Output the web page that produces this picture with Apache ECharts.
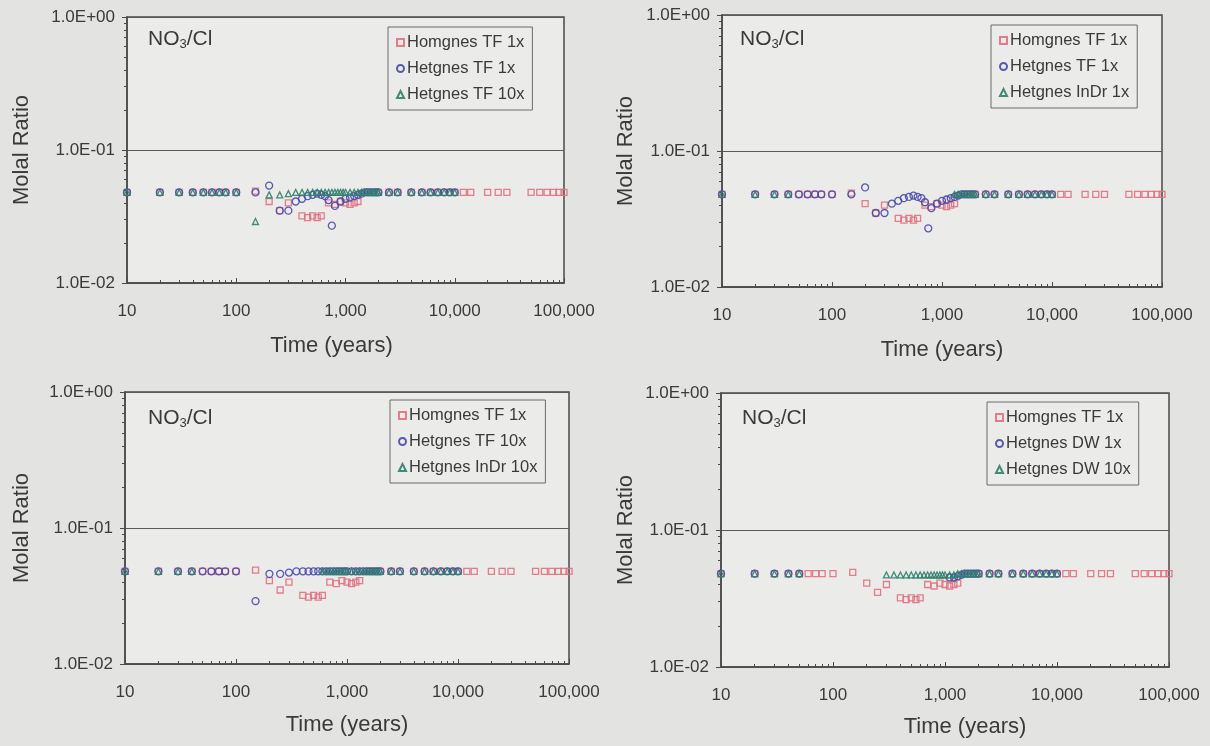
<!DOCTYPE html>
<html><head><meta charset="utf-8">
<script src="https://cdn.jsdelivr.net/npm/echarts@6/dist/echarts.min.js"></script>
<style>html,body{margin:0;padding:0;background:#e3e3e1}#c{width:1210px;height:746px}</style>
</head><body><div id="c"></div>
<script>
// ---- tick labels / texts ----
const xTickLabels = ['10', '100', '1,000', '10,000', '100,000'];
const yTickLabels = ['1.0E-02', '1.0E-01', '1.0E+00'];
const xName = 'Time (years)';
const yName = 'Molal Ratio';

// ---- Homgnes TF 1x ----
const homT = [10,20,30,40,50,60,70,80,100,150,200,250,300,400,450,500,550,600,700,800,900,1000,1100,1200,1300,1600,2000,2500,3000,4000,5000,6000,7000,8000,9000,10000,12000,14000,20000,25000,30000,50000,60000,70000,80000,90000,100000];
const homV = [0.048,0.048,0.048,0.048,0.048,0.048,0.048,0.048,0.048,0.049,0.041,0.035,0.040,0.032,0.031,0.032,0.031,0.032,0.040,0.039,0.041,0.040,0.039,0.040,0.041,0.048,0.048,0.048,0.048,0.048,0.048,0.048,0.048,0.048,0.048,0.048,0.048,0.048,0.048,0.048,0.048,0.048,0.048,0.048,0.048,0.048,0.048];

// ---- Hetgnes TF 1x ----
const tf1T = [10,20,30,40,50,60,70,80,100,150,200,250,300,350,400,450,500,550,600,650,700,750,800,900,1000,1100,1200,1300,1400,1500,1600,1700,1800,1900,2000,2500,3000,4000,5000,6000,7000,8000,9000,10000];
const tf1V = [0.048,0.048,0.048,0.048,0.048,0.048,0.048,0.048,0.048,0.048,0.054,0.035,0.035,0.041,0.043,0.045,0.046,0.047,0.046,0.045,0.042,0.027,0.038,0.041,0.043,0.044,0.045,0.046,0.047,0.048,0.048,0.048,0.048,0.048,0.048,0.048,0.048,0.048,0.048,0.048,0.048,0.048,0.048,0.048];

// ---- Hetgnes TF 10x ----
const tf10T = [10,20,30,40,50,60,70,80,100,150,200,250,300,350,400,450,500,550,600,650,700,750,800,850,900,950,1000,1100,1200,1300,1400,1500,1600,1700,1800,1900,2000,2500,3000,4000,5000,6000,7000,8000,9000,10000];
const tf10V = [0.048,0.048,0.048,0.048,0.048,0.048,0.048,0.048,0.048,0.029,0.046,0.046,0.047,0.048,0.048,0.048,0.048,0.048,0.048,0.048,0.048,0.048,0.048,0.048,0.048,0.048,0.048,0.048,0.048,0.048,0.048,0.048,0.048,0.048,0.048,0.048,0.048,0.048,0.048,0.048,0.048,0.048,0.048,0.048,0.048,0.048];

// ---- Hetgnes InDr 1x ----
const indr1T = [10,20,30,40,1300,1400,1500,1600,1700,1800,1900,2000,2500,3000,4000,5000,6000,7000,8000,9000,10000];
const indr1V = [0.048,0.048,0.048,0.048,0.048,0.048,0.048,0.048,0.048,0.048,0.048,0.048,0.048,0.048,0.048,0.048,0.048,0.048,0.048,0.048,0.048];

// ---- Hetgnes InDr 10x ----
const indr10T = [10,20,30,40,600,650,700,750,800,850,900,950,1000,1100,1200,1300,1400,1500,1600,1700,1800,1900,2000,2500,3000,4000,5000,6000,7000,8000,9000,10000];
const indr10V = [0.048,0.048,0.048,0.048,0.048,0.048,0.048,0.048,0.048,0.048,0.048,0.048,0.048,0.048,0.048,0.048,0.048,0.048,0.048,0.048,0.048,0.048,0.048,0.048,0.048,0.048,0.048,0.048,0.048,0.048,0.048,0.048];

// ---- Hetgnes DW 1x ----
const dw1T = [10,20,30,40,50,1100,1200,1300,1400,1500,1600,1700,1800,1900,2000,2500,3000,4000,5000,6000,7000,8000,9000,10000];
const dw1V = [0.048,0.048,0.048,0.048,0.048,0.045,0.045,0.046,0.047,0.048,0.048,0.048,0.048,0.048,0.048,0.048,0.048,0.048,0.048,0.048,0.048,0.048,0.048,0.048];

// ---- Hetgnes DW 10x ----
const dw10T = [10,20,30,40,50,300,350,400,450,500,550,600,650,700,750,800,850,900,950,1000,1100,1200,1300,1400,1500,1600,1700,1800,1900,2000,2500,3000,4000,5000,6000,7000,8000,9000,10000];
const dw10V = [0.048,0.048,0.048,0.048,0.048,0.047,0.047,0.047,0.047,0.047,0.047,0.047,0.047,0.047,0.047,0.047,0.047,0.047,0.047,0.047,0.047,0.047,0.048,0.048,0.048,0.048,0.048,0.048,0.048,0.048,0.048,0.048,0.048,0.048,0.048,0.048,0.048,0.048,0.048];

// ---- panels: legend names & data ----
const panelNames = [
  ['Homgnes TF 1x', 'Hetgnes TF 1x', 'Hetgnes TF 10x'],
  ['Homgnes TF 1x', 'Hetgnes TF 1x', 'Hetgnes InDr 1x'],
  ['Homgnes TF 1x', 'Hetgnes TF 10x', 'Hetgnes InDr 10x'],
  ['Homgnes TF 1x', 'Hetgnes DW 1x', 'Hetgnes DW 10x']
];
const panelData = [
  [[homT, homV], [tf1T, tf1V], [tf10T, tf10V]],
  [[homT, homV], [tf1T, tf1V], [indr1T, indr1V]],
  [[homT, homV], [tf10T, tf10V], [indr10T, indr10V]],
  [[homT, homV], [dw1T, dw1V], [dw10T, dw10V]]
];

// ---- layout / style (not data) ----
const FONT = 'Liberation Sans, Arial, sans-serif';
const TXT = '#3a3a3a';
const grids = [
  {left: 127, top: 17, width: 437, height: 266},
  {left: 722, top: 15, width: 440, height: 272},
  {left: 125, top: 392, width: 444, height: 272},
  {left: 721, top: 393, width: 448, height: 274}
];
const legendPos = [[388, 27], [991, 25], [390, 400], [987, 402]];
const titlePos = [[148, 29], [740, 29], [148, 408], [742, 408]];
const xNameGap = [52, 52, 50, 49];
const xNamePad = [[0, 28, 0, 0], [0, 0, 0, 0], [0, 0, 0, 0], [0, 0, 0, 40]];
const yNameGap = [94, 85, 92, 84];
const slotStyle = [
  {symbol: 'rect', color: '#e0707f', size: 6},
  {symbol: 'circle', color: '#4848a8', size: 7},
  {symbol: 'triangle', color: '#2f7f6c', size: 6}
];

const zip = (t, v) => t.map((x, i) => [x, v[i]]);

const option = {
  backgroundColor: '#e3e3e1',
  animation: false,
  grid: grids.map(g => Object.assign({
    show: true, backgroundColor: '#ebebe9', borderColor: '#4a4a4a', borderWidth: 1.5,
    containLabel: false, outerBoundsMode: 'none'
  }, g)),
  xAxis: grids.map((g, i) => ({
    type: 'log', logBase: 10, gridIndex: i, min: 10, max: 100000,
    name: xName, nameLocation: 'middle', nameGap: xNameGap[i],
    nameTextStyle: {fontFamily: FONT, fontSize: 22, color: TXT, padding: xNamePad[i]},
    axisLine: {show: true, lineStyle: {color: '#4a4a4a', width: 1.5}},
    axisTick: {show: true, inside: true, length: 5, lineStyle: {color: '#4a4a4a'}},
    minorTick: {show: true, splitNumber: 9, length: 3, lineStyle: {color: '#4a4a4a'}},
    splitLine: {show: false},
    axisLabel: {
      fontFamily: FONT, fontSize: 17, color: TXT, margin: 20,
      formatter: v => xTickLabels[Math.round(Math.log10(v)) - 1]
    }
  })),
  yAxis: grids.map((g, i) => ({
    type: 'log', logBase: 10, gridIndex: i, min: 0.01, max: 1,
    name: yName, nameLocation: 'middle', nameGap: yNameGap[i], nameRotate: 90,
    nameTextStyle: {fontFamily: FONT, fontSize: 22, color: TXT},
    axisLine: {show: true, lineStyle: {color: '#4a4a4a', width: 1.5}},
    axisTick: {show: true, inside: false, length: 5, lineStyle: {color: '#4a4a4a'}},
    minorTick: {show: true, splitNumber: 9, length: 3, lineStyle: {color: '#4a4a4a'}},
    splitLine: {show: true, lineStyle: {color: '#5a5a5a', width: 1}},
    axisLabel: {
      fontFamily: FONT, fontSize: 17, color: TXT, margin: 12,
      formatter: v => yTickLabels[Math.round(Math.log10(v)) + 2]
    }
  })),
  legend: panelNames.map((names, i) => ({
    orient: 'vertical', left: legendPos[i][0], top: legendPos[i][1],
    data: names.map(n => n + '#' + i),
    formatter: n => n.split('#')[0],
    itemWidth: 7, itemHeight: 7, itemGap: 9,
    padding: [7, 8, 7, 8],
    backgroundColor: '#ebebe9', borderColor: '#6a6a6a', borderWidth: 1, borderRadius: 0,
    textStyle: {fontFamily: FONT, fontSize: 16.5, color: TXT, padding: [0, 0, 0, -2]},
    selectedMode: false
  })),
  graphic: titlePos.map(p => ({
    type: 'text', left: p[0], top: p[1], silent: true,
    style: {
      text: '{a|NO}{b|3}{a|/Cl}',
      rich: {
        a: {fontFamily: FONT, fontSize: 21, fill: TXT},
        b: {fontFamily: FONT, fontSize: 13, fill: TXT, padding: [10, 0, 0, 0]}
      }
    }
  })),
  series: []
};

panelNames.forEach((names, i) => {
  names.forEach((n, k) => {
    const st = slotStyle[k];
    const d = panelData[i][k];
    option.series.push({
      type: 'scatter', name: n + '#' + i, xAxisIndex: i, yAxisIndex: i,
      symbol: st.symbol, symbolSize: st.size,
      itemStyle: {color: 'rgba(0,0,0,0)', borderColor: st.color, borderWidth: 1.3, opacity: 0.9},
      data: zip(d[0], d[1])
    });
  });
});

const chart = echarts.init(document.getElementById('c'), null, {renderer: 'canvas'});
chart.setOption(option);
</script></body></html>
